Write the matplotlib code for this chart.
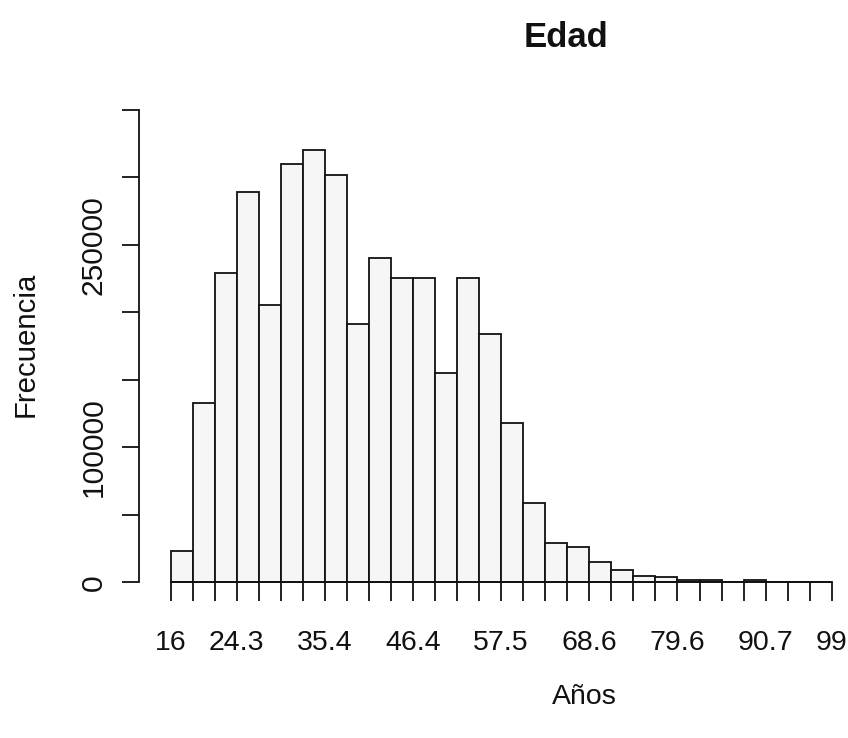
import numpy as np
import matplotlib
matplotlib.use("Agg")
import matplotlib.pyplot as plt
from matplotlib.ticker import FixedLocator

# ---- data ----
title = "Edad"
x_label = "Años"
y_label = "Frecuencia"
break_start = 16
break_end = 99
n_bins = 30
counts = [23000, 133000, 229000, 289000, 205000, 310000, 320000, 302000,
          191000, 240000, 225000, 225000, 155000, 225000, 184000, 118000,
          59000, 29000, 26000, 15000, 9000, 4700, 4200, 1700, 1700, 300,
          1700, 200, 100, 50]
x_tick_break_index = [0, 3, 7, 11, 15, 19, 23, 27, 30]
x_tick_labels = ["16", "24.3", "35.4", "46.4", "57.5", "68.6", "79.6", "90.7", "99"]
y_tick_values = [0, 100000, 250000]
y_tick_labels = ["0", "100000", "250000"]
y_minor_values = [0, 50000, 100000, 150000, 200000, 250000, 300000, 350000]

# ---- layout (pixels) ----
W, H = 848, 738
fig = plt.figure(figsize=(W / 100, H / 100), dpi=100)
narrow = ['Liberation Sans Narrow', 'Liberation Sans', 'DejaVu Sans']
regular = ['Liberation Sans', 'DejaVu Sans']

ax_left_px, ax_right_px = 139.3, 848.0
ax_top_px, ax_bottom_px = 109.7, 582.3
x0_px, x1_px = 170.7, 831.7
ax = fig.add_axes([ax_left_px / W, (H - ax_bottom_px) / H,
                   (ax_right_px - ax_left_px) / W, (ax_bottom_px - ax_top_px) / H])

edges = np.linspace(break_start, break_end, n_bins + 1)
ppu = (x1_px - x0_px) / (break_end - break_start)
ax.set_xlim(break_start - (x0_px - ax_left_px) / ppu,
            break_end + (ax_right_px - x1_px) / ppu)
ax.set_ylim(0, 350000)

ax.bar(edges[:-1], counts, width=np.diff(edges), align='edge',
       color='#f6f6f6', edgecolor='#111111', linewidth=1.3, clip_on=False, zorder=2)

for s in ['top', 'right']:
    ax.spines[s].set_visible(False)
ax.spines['left'].set_bounds(0, 350000)
ax.spines['bottom'].set_bounds(break_start, break_end)
for s in ['left', 'bottom']:
    ax.spines[s].set_linewidth(1.3)
    ax.spines[s].set_color('#111111')
    ax.spines[s].set_zorder(3)

# x ticks
ax.set_xticks([edges[i] for i in x_tick_break_index])
ax.set_xticklabels(x_tick_labels, fontfamily=narrow, fontsize=20.5, color='#111111')
ax.xaxis.set_minor_locator(FixedLocator(list(edges)))
ax.tick_params(axis='x', which='both', length=13.9, width=1.3, direction='out', color='#111111')
ax.tick_params(axis='x', which='major', pad=20.5)

# y ticks
ax.set_yticks(y_tick_values)
ax.set_yticklabels(y_tick_labels, fontfamily=regular, fontsize=21.6, rotation=90, va='center',
                   color='#111111')
ax.yaxis.set_minor_locator(FixedLocator(y_minor_values))
ax.tick_params(axis='y', which='both', length=12, width=1.3, direction='out', color='#111111')
ax.tick_params(axis='y', which='major', pad=10.6)

# texts
fig.text(565.5 / W, (H - 46.7) / H, title, ha='center', va='baseline',
         fontfamily=narrow, fontweight='bold', fontsize=25, color='#111111')
fig.text(584 / W, (H - 704) / H, x_label, ha='center', va='baseline',
         fontfamily=narrow, fontsize=20.5, color='#111111')
fig.text(33.3 / W, (H - 344) / H, y_label, ha='center', va='baseline',
         rotation=90, rotation_mode='anchor', fontfamily=regular, fontsize=21.2, color='#111111')

fig.savefig("out.png", dpi=100)
